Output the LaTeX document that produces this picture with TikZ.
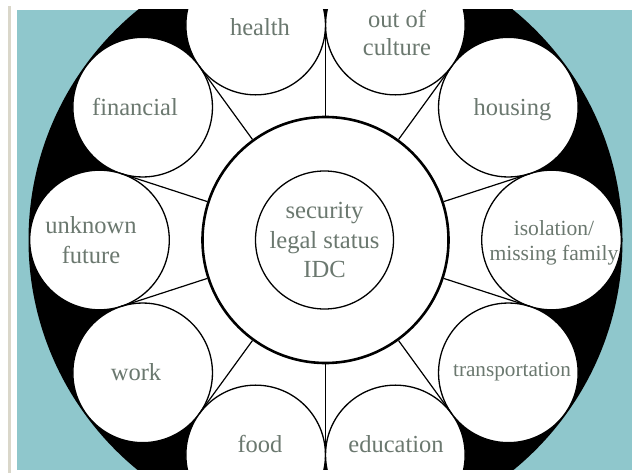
\documentclass[tikz,border=0pt]{standalone}
\usepackage{fontspec}
\setmainfont{Liberation Serif}
\usetikzlibrary{calc}
\definecolor{sea}{HTML}{8FC7CC}
\definecolor{ink}{HTML}{6B786F}
\definecolor{rule}{HTML}{DAD7CA}
\tikzset{
  ring/.style={circle, draw=black, fill=white, line width=1.3pt, inner sep=0pt, minimum size=139.6pt},
  hub/.style={circle, draw=black, fill=white, line width=2.6pt, inner sep=0pt, minimum size=246pt},
  core/.style={circle, draw=black, fill=white, line width=1.3pt, inner sep=0pt, minimum size=138pt},
  spoke/.style={line width=1.2pt},
  lbl/.style={text=ink, align=center, font=\fontsize{24.5}{29}\selectfont, inner sep=0pt},
}
\begin{document}
\begin{tikzpicture}[x=1pt,y=-1pt]
\useasboundingbox (0,0) rectangle (636,473);
% thin rule at the left margin
\fill[rule] (7.5,6) rectangle (11,473);
\begin{scope}
  \clip (16.5,10) rectangle (632,469.5);
  \fill[sea] (16.5,10) rectangle (632,469.5);
  \coordinate (c) at (325.5,240);
  \fill[black] (c) circle (297pt);
  % white field inside the ring of circles
  \fill[white] (c) circle (214.9pt);
  % ten surrounding circles, tangent to each other
  \foreach \n/\a in {iso/0, hous/36, cult/72, hlth/108, fin/144, unk/180,
                     work/216, food/252, edu/288, trans/324}
    \node[ring] (\n) at ($(c)+(\a:226pt)$) {};
  % central hub
  \node[hub] (hub) at (c) {};
  % spokes from the hub to the touching points of neighbouring circles
  \foreach \k in {0,...,9}{
    \coordinate (t\k) at ($(c)+({18+36*\k}:214.9pt)$);
    \draw[spoke] (hub.{18+36*\k}) -- (t\k);
  }
  \node[core] (core) at (324.5,240) {};
  % labels
  \node[lbl, font=\fontsize{24.6}{29.5}\selectfont] (coreT) at (324.5,240) {security\\legal status\\IDC};
  \node[lbl, anchor=base] (hlthT) at (260,36) {health};
  \node[lbl, font=\fontsize{24.5}{28}\selectfont] (cultT) at (397,33) {out of\\culture};
  \node[lbl, anchor=base] (finT) at (135,116) {financial};
  \node[lbl, anchor=base] (housT) at (512.5,116) {housing};
  \node[lbl, font=\fontsize{24.5}{30}\selectfont] (unkT) at (91,240) {unknown\\future};
  \node[lbl, font=\fontsize{21.6}{25}\selectfont] (isoT) at (554,243) {isolation/\\missing family};
  \node[lbl, anchor=base] (workT) at (136,380) {work};
  \node[lbl, anchor=base, font=\fontsize{21.2}{24}\selectfont] (transT) at (512,376) {transportation};
  \node[lbl, anchor=base] (foodT) at (260,452) {food};
  \node[lbl, anchor=base] (eduT) at (396,452) {education};
\end{scope}
\end{tikzpicture}
\end{document}
